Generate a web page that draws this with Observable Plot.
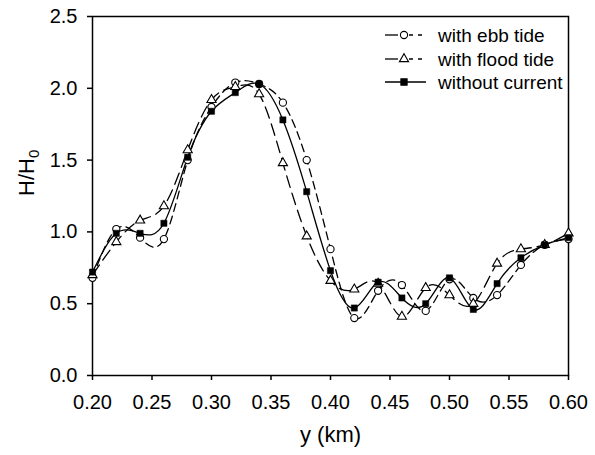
<!DOCTYPE html>
<html><head><meta charset="utf-8">
<script src="https://cdn.jsdelivr.net/npm/d3@7"></script>
<script src="https://cdn.jsdelivr.net/npm/@observablehq/plot@0.6"></script>
<style>body{margin:0;background:#fff}</style>
</head><body><div id="chart"></div>
<script>
const yKm = [0.20,0.22,0.24,0.26,0.28,0.30,0.32,0.34,0.36,0.38,0.40,0.42,0.44,0.46,0.48,0.50,0.52,0.54,0.56,0.58,0.60];
const ebbTide = [0.68,1.02,0.96,0.95,1.50,1.87,2.04,2.03,1.90,1.50,0.88,0.40,0.59,0.63,0.45,0.67,0.54,0.56,0.77,0.91,0.95];
const floodTide = [0.70,0.93,1.08,1.18,1.57,1.92,2.01,1.96,1.48,0.97,0.66,0.60,0.64,0.41,0.61,0.56,0.50,0.78,0.88,0.91,0.99];
const noCurrent = [0.72,0.99,0.99,1.06,1.52,1.84,1.97,2.03,1.78,1.28,0.73,0.47,0.65,0.54,0.50,0.68,0.46,0.64,0.82,0.91,0.96];
const seriesNames = ["with ebb tide","with flood tide","without current"];
const xTicks = [0.20,0.25,0.30,0.35,0.40,0.45,0.50,0.55,0.60];
const yTicks = [0.0,0.5,1.0,1.5,2.0,2.5];

const ebb = yKm.map((x,i)=>({x, v: ebbTide[i]}));
const flood = yKm.map((x,i)=>({x, v: floodTide[i]}));
const none = yKm.map((x,i)=>({x, v: noCurrent[i]}));

const chart = Plot.plot({
  width: 595, height: 455,
  marginLeft: 92, marginRight: 27, marginTop: 16, marginBottom: 80,
  style: {fontFamily: "'Liberation Sans', Arial, sans-serif", background: "#fff", color: "#000"},
  x: {domain: [0.2, 0.6]},
  y: {domain: [0, 2.5]},
  marks: [
    Plot.axisX({ticks: xTicks, tickFormat: d3.format(".2f"), tickSize: 5, tickPadding: 14, fontSize: 20, label: null, strokeWidth: 1.5}),
    Plot.axisY({ticks: yTicks, tickFormat: d3.format(".1f"), tickSize: 5, tickPadding: 10, fontSize: 20, label: null, strokeWidth: 1.5}),
    Plot.frame({stroke: "#000", strokeWidth: 1.5}),
    Plot.text(["y (km)"], {frameAnchor: "bottom", dy: 66, fontSize: 22, fill: "#000"}),
    Plot.text(["H/H0"], {frameAnchor: "left", dx: -66, rotate: -90, fontSize: 22, fill: "#000"}),
    Plot.line(none, {x: "x", y: "v", curve: "natural", stroke: "#000", strokeWidth: 1.3}),
    Plot.line(ebb, {x: "x", y: "v", curve: "natural", stroke: "#000", strokeWidth: 1.3, strokeDasharray: "8,5"}),
    Plot.line(flood, {x: "x", y: "v", curve: "natural", stroke: "#000", strokeWidth: 1.3, strokeDasharray: "12,6"}),
    Plot.dot(ebb, {x: "x", y: "v", symbol: "circle", r: 3.6, fill: "#fff", stroke: "#000", strokeWidth: 1.1}),
    Plot.dot(flood, {x: "x", y: "v", symbol: "triangle", r: 3.4, fill: "#fff", stroke: "#000", strokeWidth: 1.1}),
    Plot.dot(none, {x: "x", y: "v", symbol: "square", r: 3.5, fill: "#000", stroke: "#000", strokeWidth: 0.5})
  ]
});
document.getElementById("chart").appendChild(chart);

// subscript in y title
d3.select(chart).selectAll("text").filter(function(){return this.textContent === "H/H0";}).each(function(){
  const t = d3.select(this);
  t.text(null);
  t.append("tspan").text("H/H");
  t.append("tspan").attr("font-size", 15).attr("dy", "0.35em").text("0");
});

// legend
const svg = d3.select(chart);
const lg = svg.append("g").attr("font-family", "'Liberation Sans', Arial, sans-serif").attr("font-size", 19).attr("text-anchor", "start");
const rows = [35, 59, 82];
const sym = [d3.symbolCircle, d3.symbolTriangle, d3.symbolSquare];
const symSize = [Math.PI*3.6*3.6, Math.PI*3.4*3.4, Math.PI*3.5*3.5];
seriesNames.forEach((name, i) => {
  const y = rows[i];
  const g = lg.append("g");
  if (i < 2) {
    g.append("line").attr("x1", 385).attr("x2", 398).attr("y1", y).attr("y2", y).attr("stroke", "#000").attr("stroke-width", 1.3);
    g.append("line").attr("x1", 409).attr("x2", 426).attr("y1", y).attr("y2", y).attr("stroke", "#000").attr("stroke-width", 1.3).attr("stroke-dasharray", "4,5");
  } else {
    g.append("line").attr("x1", 385).attr("x2", 426).attr("y1", y).attr("y2", y).attr("stroke", "#000").attr("stroke-width", 1.3);
  }
  g.append("path").attr("d", d3.symbol(sym[i], symSize[i])()).attr("transform", `translate(404,${y})`)
    .attr("fill", i === 2 ? "#000" : "#fff").attr("stroke", "#000").attr("stroke-width", 1.1);
  g.append("text").attr("x", 438).attr("y", y).attr("dy", "0.35em").attr("text-anchor", "start").attr("fill", "#000").text(name);
});
</script>
</body></html>
